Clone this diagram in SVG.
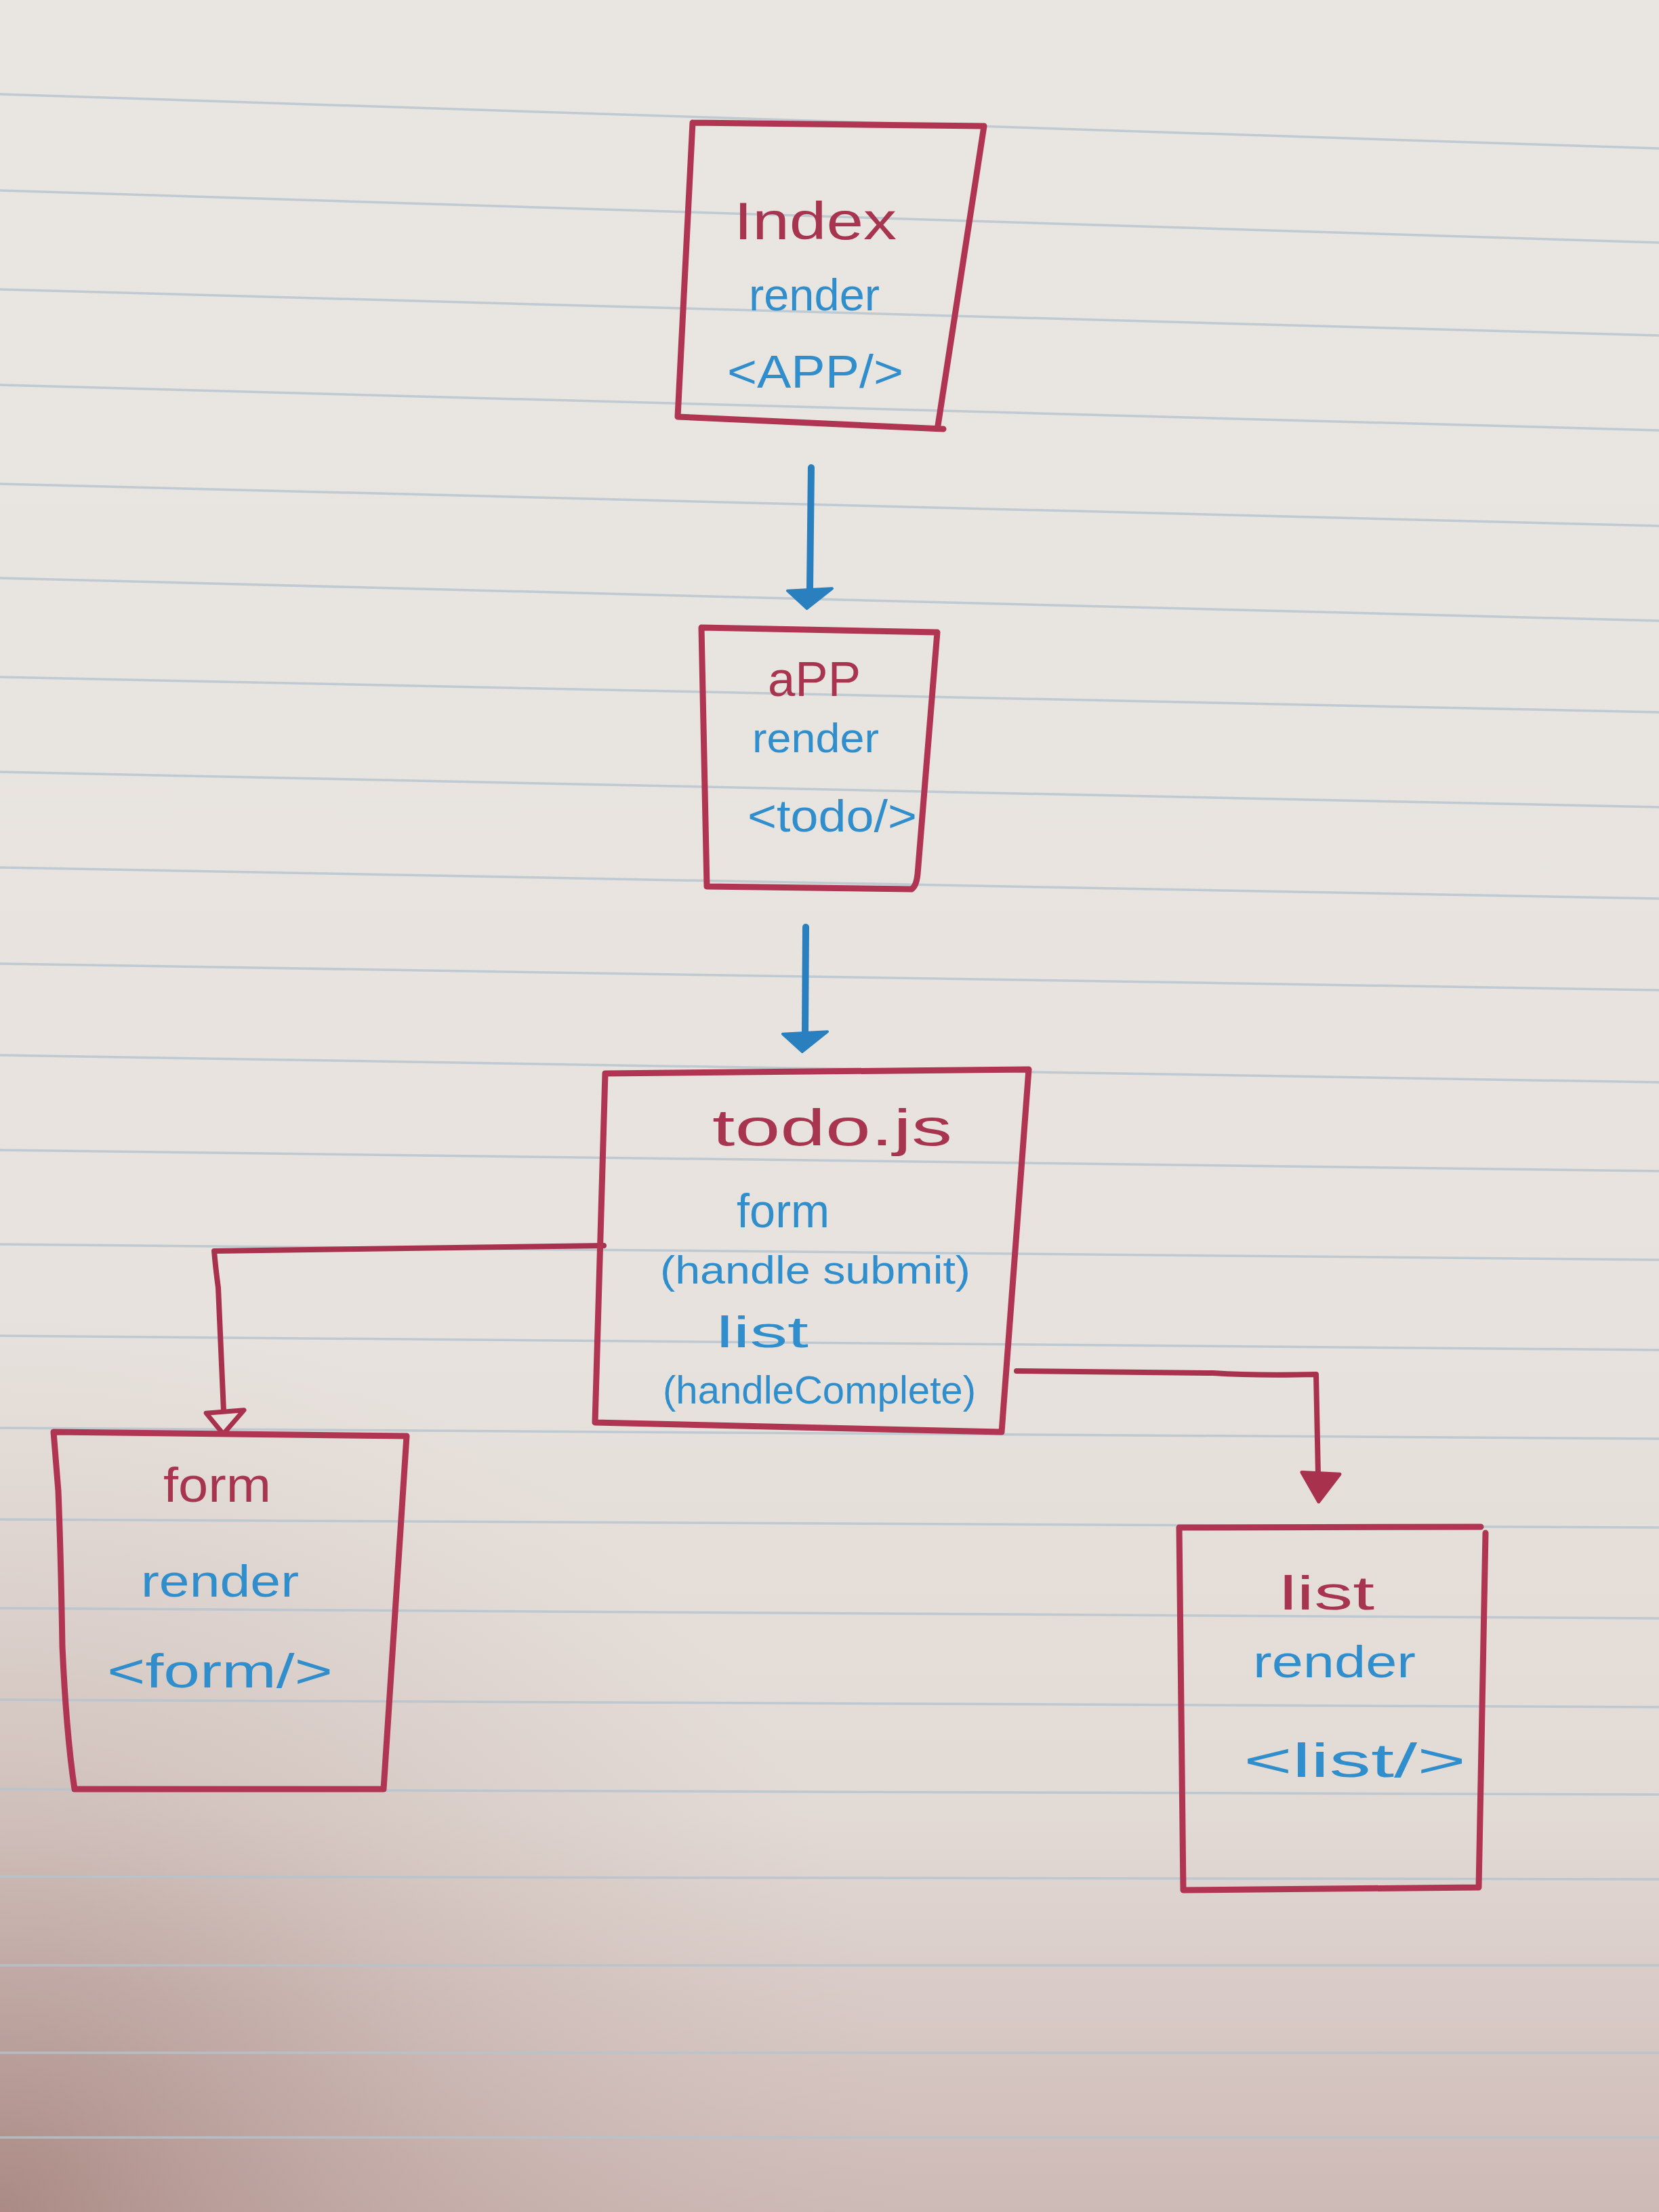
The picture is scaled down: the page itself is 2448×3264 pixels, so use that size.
<svg xmlns="http://www.w3.org/2000/svg" width="2448" height="3264" viewBox="0 0 2448 3264">
<defs>
<linearGradient id="paper" x1="0" y1="0" x2="0" y2="1">
<stop offset="0" stop-color="#e9e6e1"/>
<stop offset="0.6" stop-color="#e7e2dd"/>
<stop offset="0.82" stop-color="#e2dad5"/>
<stop offset="1" stop-color="#cdb9b5"/>
</linearGradient>
<radialGradient id="shade" cx="0" cy="1" r="0.55" gradientUnits="objectBoundingBox" gradientTransform="translate(0,0) scale(1,0.75) translate(0,0.333)">
<stop offset="0" stop-color="#9c7670" stop-opacity="0.7"/>
<stop offset="0.5" stop-color="#b0928d" stop-opacity="0.3"/>
<stop offset="1" stop-color="#c8b3ae" stop-opacity="0"/>
</radialGradient>
<marker id="arrow-blue" markerUnits="userSpaceOnUse" markerWidth="80" markerHeight="80" viewBox="-2 -40 44 80" refX="0" refY="0" orient="auto">
<path d="M0,-33 L4,33 L30,4 Z" fill="#2a7fbf" stroke="#2a7fbf" stroke-width="4" stroke-linejoin="round"/>
</marker>
<marker id="arrow-red-open" markerUnits="userSpaceOnUse" markerWidth="80" markerHeight="80" viewBox="-6 -40 50 80" refX="0" refY="0" orient="auto">
<path d="M0,-30 L2,26 L34,2 Z" fill="#e6e1dc" stroke="#a8324d" stroke-width="7" stroke-linejoin="round"/>
</marker>
<marker id="arrow-red-filled" markerUnits="userSpaceOnUse" markerWidth="80" markerHeight="80" viewBox="-6 -40 56 80" refX="0" refY="0" orient="auto">
<path d="M0,-32 L-4,24 L40,0 Z" fill="#a8324d" stroke="#a8324d" stroke-width="5" stroke-linejoin="round"/>
</marker>
</defs>
<style>
.box{fill:none;stroke:#b03552;stroke-width:9;stroke-linejoin:round;stroke-linecap:round}
.rule{stroke:#b4c3ce;stroke-width:3.5;fill:none;opacity:0.8}
.red{fill:#a8354f;font-family:"Liberation Sans","DejaVu Sans",sans-serif}
.blue{fill:#2f8ecb;font-family:"Liberation Sans","DejaVu Sans",sans-serif}
.conn-red{fill:none;stroke:#a8324d;stroke-width:8;stroke-linejoin:round;stroke-linecap:round}
.conn-blue{fill:none;stroke:#2a7fbf;stroke-width:10;stroke-linecap:round}
</style>
<rect x="0" y="0" width="2448" height="3264" fill="url(#paper)"/>
<rect x="0" y="0" width="2448" height="3264" fill="url(#shade)"/>
<g id="ruled-lines">
<line class="rule" x1="0" y1="139" x2="2448" y2="219"/>
<line class="rule" x1="0" y1="281" x2="2448" y2="358"/>
<line class="rule" x1="0" y1="427" x2="2448" y2="495"/>
<line class="rule" x1="0" y1="568" x2="2448" y2="635"/>
<line class="rule" x1="0" y1="714" x2="2448" y2="776"/>
<line class="rule" x1="0" y1="853" x2="2448" y2="916"/>
<line class="rule" x1="0" y1="999" x2="2448" y2="1051"/>
<line class="rule" x1="0" y1="1139" x2="2448" y2="1191"/>
<line class="rule" x1="0" y1="1280" x2="2448" y2="1326"/>
<line class="rule" x1="0" y1="1422" x2="2448" y2="1461"/>
<line class="rule" x1="0" y1="1557" x2="2448" y2="1597"/>
<line class="rule" x1="0" y1="1697" x2="2448" y2="1728"/>
<line class="rule" x1="0" y1="1836" x2="2448" y2="1859"/>
<line class="rule" x1="0" y1="1971" x2="2448" y2="1992"/>
<line class="rule" x1="0" y1="2107" x2="2448" y2="2123"/>
<line class="rule" x1="0" y1="2242" x2="2448" y2="2254"/>
<line class="rule" x1="0" y1="2373" x2="2448" y2="2388"/>
<line class="rule" x1="0" y1="2508" x2="2448" y2="2519"/>
<line class="rule" x1="0" y1="2640" x2="2448" y2="2648"/>
<line class="rule" x1="0" y1="2769" x2="2448" y2="2773"/>
<line class="rule" x1="0" y1="2900" x2="2448" y2="2900"/>
<line class="rule" x1="0" y1="3029" x2="2448" y2="3029"/>
<line class="rule" x1="0" y1="3154" x2="2448" y2="3154"/>
</g>
<g id="connectors">
<path class="conn-blue" d="M1197,690 L1195,868" marker-end="url(#arrow-blue)"/>
<path class="conn-blue" d="M1189,1368 L1188,1522" marker-end="url(#arrow-blue)"/>
<path class="conn-red" d="M891,1838 L316,1846 Q318,1870 322,1900 L330,2082" marker-end="url(#arrow-red-open)"/>
<path class="conn-red" d="M1500,2023 L1790,2026 Q1850,2030 1942,2028 L1945,2176" marker-end="url(#arrow-red-filled)"/>
</g>
<g id="node-index">
<path class="box" d="M1022,181 L1452,186 L1384,628 M1000,615 L1392,633 M1022,181 L1000,615"/>
<text class="red" x="1083" y="353" font-size="78" textLength="240" lengthAdjust="spacingAndGlyphs">Index</text>
<text class="blue" x="1105" y="458" font-size="66" textLength="193" lengthAdjust="spacingAndGlyphs">render</text>
<text class="blue" x="1073" y="572" font-size="68" textLength="260" lengthAdjust="spacingAndGlyphs">&lt;APP/&gt;</text>
</g>
<g id="node-app">
<path class="box" d="M1035,926 L1383,933 L1354,1290 Q1352,1308 1345,1312 L1043,1308 Z"/>
<text class="red" x="1133" y="1027" font-size="72" textLength="137" lengthAdjust="spacingAndGlyphs">aPP</text>
<text class="blue" x="1110" y="1110" font-size="62" textLength="187" lengthAdjust="spacingAndGlyphs">render</text>
<text class="blue" x="1103" y="1227" font-size="66" textLength="250" lengthAdjust="spacingAndGlyphs">&lt;todo/&gt;</text>
</g>
<g id="node-todo">
<path class="box" d="M893,1584 L1518,1578 L1478,2113 L878,2099 Z"/>
<text class="red" x="1051" y="1690" font-size="76" textLength="354" lengthAdjust="spacingAndGlyphs">todo.js</text>
<text class="blue" x="1087" y="1811" font-size="70" textLength="137" lengthAdjust="spacingAndGlyphs">form</text>
<text class="blue" x="974" y="1894" font-size="58" textLength="458" lengthAdjust="spacingAndGlyphs">(handle submit)</text>
<text class="blue" x="1057" y="1988" font-size="64" textLength="136" lengthAdjust="spacingAndGlyphs">list</text>
<text class="blue" x="978" y="2071" font-size="58" textLength="462" lengthAdjust="spacingAndGlyphs">(handleComplete)</text>
</g>
<g id="node-form">
<path class="box" d="M79,2113 L600,2119 L566,2640 L110,2640 Q98,2560 92,2430 Q90,2300 86,2200 Z"/>
<text class="red" x="241" y="2216" font-size="72" textLength="159" lengthAdjust="spacingAndGlyphs">form</text>
<text class="blue" x="208" y="2356" font-size="66" textLength="233" lengthAdjust="spacingAndGlyphs">render</text>
<text class="blue" x="158" y="2490" font-size="70" textLength="333" lengthAdjust="spacingAndGlyphs">&lt;form/&gt;</text>
</g>
<g id="node-list">
<path class="box" d="M1740,2254 L2185,2253 M2192,2262 L2182,2785 L1746,2789 L1740,2254"/>
<text class="red" x="1888" y="2375" font-size="70" textLength="140" lengthAdjust="spacingAndGlyphs">list</text>
<text class="blue" x="1849" y="2475" font-size="66" textLength="240" lengthAdjust="spacingAndGlyphs">render</text>
<text class="blue" x="1835" y="2622" font-size="70" textLength="328" lengthAdjust="spacingAndGlyphs">&lt;list/&gt;</text>
</g>
</svg>
